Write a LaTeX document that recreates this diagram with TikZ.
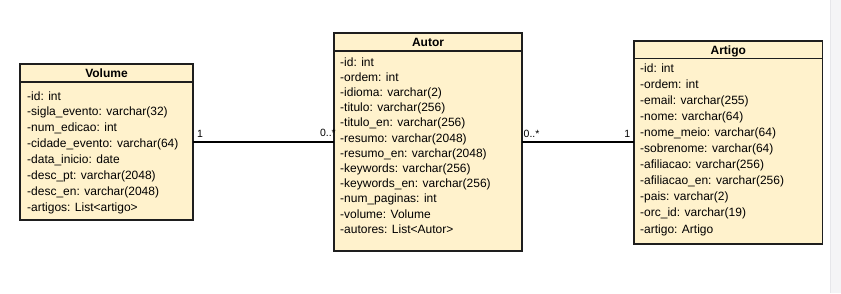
\documentclass[tikz,border=0pt]{standalone}
\usepackage{fontspec}
\setmainfont{Liberation Sans}
\begin{document}
\definecolor{classfill}{HTML}{FFF2CC}
\definecolor{classline}{HTML}{1E1E1E}
\definecolor{stripfill}{HTML}{F4F4F6}
\definecolor{stripline}{HTML}{E6E6EA}
\begin{tikzpicture}[x=1pt,y=-1pt,
  classbox/.style={draw=classline,fill=classfill,line width=1.2pt,
    inner sep=0pt,outer sep=0pt,anchor=north west},
  sepline/.style={draw=classline,line width=1.1pt},
  title/.style={font=\fontsize{12}{14}\selectfont\bfseries,inner sep=0pt,anchor=base},
  attr/.style={font=\fontsize{12}{14}\selectfont,inner sep=0pt,anchor=base west},
  assoc/.style={draw=black,line width=1.1pt},
  mult/.style={font=\fontsize{10.5}{12}\selectfont,inner sep=0pt}]
\useasboundingbox (0,0) rectangle (841,293);
\fill[stripfill] (830,0) rectangle (841,293);
\draw[stripline,line width=1pt] (830,0) -- (830,293);

% Volume
\node[classbox,minimum width=173pt,minimum height=156pt] (vol) at (20,64) {};
\draw[sepline] ([yshift=-18pt]vol.north west) -- ([yshift=-18pt]vol.north east);
\node[title] (volT) at (106.5,77.5) {Volume};
\foreach \t [count=\i] in {-id: int,-sigla\_evento: varchar(32),-num\_edicao: int,
  -cidade\_evento: varchar(64),-data\_inicio: date,-desc\_pt: varchar(2048),
  -desc\_en: varchar(2048),-artigos: List<artigo>}
  \node[attr] (vol-\i) at (27,{100+(\i-1)*15.9}) {\t};

% Autor
\node[classbox,minimum width=188pt,minimum height=218pt] (aut) at (334,33) {};
\draw[sepline] ([yshift=-18pt]aut.north west) -- ([yshift=-18pt]aut.north east);
\node[title] (autT) at (428,46.5) {Autor};
\foreach \t [count=\i] in {-id: int,-ordem: int,-idioma: varchar(2),-titulo: varchar(256),
  -titulo\_en: varchar(256),-resumo: varchar(2048),-resumo\_en: varchar(2048),
  -keywords: varchar(256),-keywords\_en: varchar(256),-num\_paginas: int,
  -volume: Volume,-autores: List<Autor>}
  \node[attr] (aut-\i) at (340,{66+(\i-1)*15.2}) {\t};

% Artigo
\node[classbox,minimum width=188.5pt,minimum height=203pt] (art) at (634,41) {};
\draw[sepline] ([yshift=-17.5pt]art.north west) -- ([yshift=-17.5pt]art.north east);
\node[title] (artT) at (728.25,54) {Artigo};
\foreach \t [count=\i] in {-id: int,-ordem: int,-email: varchar(255),-nome: varchar(64),
  -nome\_meio: varchar(64),-sobrenome: varchar(64),-afiliacao: varchar(256),
  -afiliacao\_en: varchar(256),-pais: varchar(2),-orc\_id: varchar(19),-artigo: Artigo}
  \node[attr] (art-\i) at (640,{72+(\i-1)*16.1}) {\t};

% Associations with multiplicities
\draw[assoc] (vol.east) -- (vol.east -| aut.west);
\draw[assoc] (aut.east) -- (aut.east -| art.west);
\node[mult,anchor=base west] (m1) at (197,137.5) {1};
\node[mult,anchor=base east] (m2) at (336,136) {0..*};
\node[mult,anchor=base west] (m3) at (523.5,137.5) {0..*};
\node[mult,anchor=base east] (m4) at (630.5,137.5) {1};
\end{tikzpicture}
\end{document}
